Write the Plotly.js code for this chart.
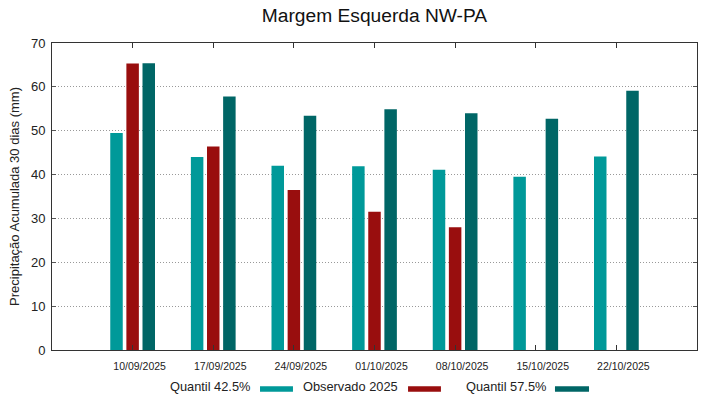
<!DOCTYPE html>
<html>
<head>
<meta charset="utf-8">
<script src="https://cdn.plot.ly/plotly-3.0.1.min.js"></script>
<style>html,body{margin:0;padding:0;background:#fff;}#chart{width:719px;height:399px;}</style>
</head>
<body>
<div id="chart"></div>
<script>
const categories = ["10/09/2025","17/09/2025","24/09/2025","01/10/2025","08/10/2025","15/10/2025","22/10/2025"];
const seriesNames = ["Quantil 42.5%","Observado 2025","Quantil 57.5%"];
const quantil425 = [49.5, 44.0, 42.0, 41.9, 41.1, 39.5, 44.1];
const observado2025 = [65.3, 46.4, 36.5, 31.5, 28.0, null, null];
const quantil575 = [65.4, 57.8, 53.4, 54.9, 54.0, 52.7, 59.1];
const colors = ["#009999", "#990e0e", "#006666"];

const seriesValues = [quantil425, observado2025, quantil575];
const traces = seriesValues.map((v, i) => ({
  type: "bar", x: categories, y: v, name: seriesNames[i],
  marker: {color: colors[i], line: {width: 0}}, showlegend: false
}));

// custom legend (text before swatch)
const legendTextRight = [0.310, 0.5395, 0.7685];
const swatchX = [[0.3225, 0.3736], [0.552, 0.603], [0.7798, 0.8326]];
const annotations = seriesNames.map((n, i) => ({
  text: n, xref: "paper", yref: "paper", x: legendTextRight[i], y: -0.1195,
  xanchor: "right", yanchor: "middle", showarrow: false,
  font: {size: 12.8, color: "#222", family: "Liberation Sans, Arial, sans-serif"}
}));
const shapes = seriesNames.map((n, i) => ({
  type: "rect", xref: "paper", yref: "paper", x0: swatchX[i][0], x1: swatchX[i][1],
  y0: -0.136, y1: -0.118, fillcolor: colors[i], line: {width: 0}
}));

const layout = {
  width: 719, height: 399,
  margin: {l: 52, r: 22, t: 43, b: 49},
  paper_bgcolor: "#fff", plot_bgcolor: "#fff",
  font: {family: "Liberation Sans, Arial, sans-serif", color: "#222"},
  title: {text: "Margem Esquerda NW-PA", x: 0.5, xref: "paper", y: 0.962, yref: "container", yanchor: "middle",
          font: {size: 19.2, color: "#111"}},
  barmode: "group", bargap: 0.4, bargroupgap: 0.225,
  xaxis: {
    type: "category", range: [-1, 7], showgrid: false, zeroline: false,
    showline: true, linecolor: "#333", linewidth: 1, mirror: "ticks",
    ticks: "inside", ticklen: 5, tickcolor: "#333",
    tickfont: {size: 10.5, color: "#222"}, ticklabelshift: 7, ticklabelstandoff: 6
  },
  yaxis: {
    range: [0, 70], dtick: 10, showgrid: true, gridcolor: "#999", griddash: "1px,2px", gridwidth: 1,
    zeroline: false, showline: true, linecolor: "#333", linewidth: 1, mirror: "ticks",
    ticks: "inside", ticklen: 4, tickcolor: "#555",
    tickfont: {size: 13, color: "#222"}, ticklabelstandoff: 3,
    title: {text: "Precipitação Acumulada 30 dias (mm)", font: {size: 13, color: "#222"}, standoff: 8}
  },
  annotations: annotations,
  shapes: shapes
};

Plotly.newPlot("chart", traces, layout, {displayModeBar: false, staticPlot: true});
</script>
</body>
</html>
